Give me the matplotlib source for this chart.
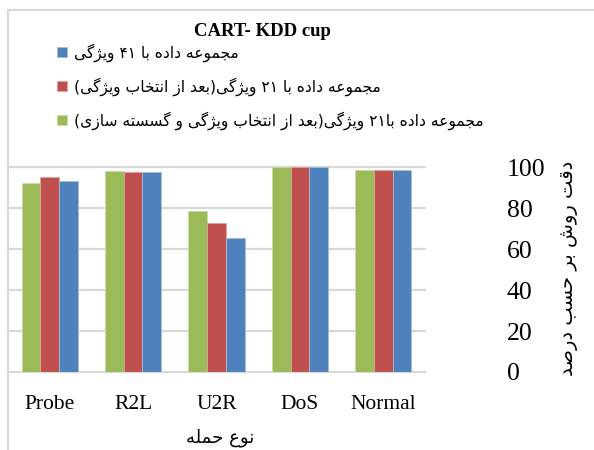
import re
import numpy as np
import matplotlib
matplotlib.use("Agg")
import matplotlib.pyplot as plt
from matplotlib.patches import Rectangle

# ---------------- data ----------------
categories = ["Probe", "R2L", "U2R", "DoS", "Normal"]
acc_41 = [93.3, 97.5, 65.6, 100.0, 98.7]          # blue
acc_21 = [95.3, 97.5, 72.8, 100.0, 98.7]          # red
acc_21_disc = [92.3, 98.2, 78.5, 100.0, 98.7]     # green
yticks = [0, 20, 40, 60, 80, 100]

title = "CART- KDD cup"
lab_41 = "مجموعه داده با ۴۱ ویژگی"
lab_21 = "مجموعه داده با ۲۱ ویژگی(بعد از انتخاب ویژگی)"
lab_21d = "مجموعه داده با۲۱ ویژگی(بعد از انتخاب ویژگی و گسسته سازی)"
xlabel = "نوع حمله"
ylabel = "دقت روش بر حسب درصد"

# ---------------- simple Persian shaping ----------------
FORMS = {
    'ا': (0xFE8D, 0xFE8E, None, None), 'ب': (0xFE8F, 0xFE90, 0xFE91, 0xFE92),
    'ت': (0xFE95, 0xFE96, 0xFE97, 0xFE98), 'ث': (0xFE99, 0xFE9A, 0xFE9B, 0xFE9C),
    'ج': (0xFE9D, 0xFE9E, 0xFE9F, 0xFEA0), 'ح': (0xFEA1, 0xFEA2, 0xFEA3, 0xFEA4),
    'خ': (0xFEA5, 0xFEA6, 0xFEA7, 0xFEA8), 'د': (0xFEA9, 0xFEAA, None, None),
    'ذ': (0xFEAB, 0xFEAC, None, None), 'ر': (0xFEAD, 0xFEAE, None, None),
    'ز': (0xFEAF, 0xFEB0, None, None), 'س': (0xFEB1, 0xFEB2, 0xFEB3, 0xFEB4),
    'ش': (0xFEB5, 0xFEB6, 0xFEB7, 0xFEB8), 'ص': (0xFEB9, 0xFEBA, 0xFEBB, 0xFEBC),
    'ض': (0xFEBD, 0xFEBE, 0xFEBF, 0xFEC0), 'ط': (0xFEC1, 0xFEC2, 0xFEC3, 0xFEC4),
    'ظ': (0xFEC5, 0xFEC6, 0xFEC7, 0xFEC8), 'ع': (0xFEC9, 0xFECA, 0xFECB, 0xFECC),
    'غ': (0xFECD, 0xFECE, 0xFECF, 0xFED0), 'ف': (0xFED1, 0xFED2, 0xFED3, 0xFED4),
    'ق': (0xFED5, 0xFED6, 0xFED7, 0xFED8), 'ل': (0xFEDD, 0xFEDE, 0xFEDF, 0xFEE0),
    'م': (0xFEE1, 0xFEE2, 0xFEE3, 0xFEE4), 'ن': (0xFEE5, 0xFEE6, 0xFEE7, 0xFEE8),
    'ه': (0xFEE9, 0xFEEA, 0xFEEB, 0xFEEC), 'و': (0xFEED, 0xFEEE, None, None),
    'ی': (0xFBFC, 0xFBFD, 0xFBFE, 0xFBFF), 'گ': (0xFB92, 0xFB93, 0xFB94, 0xFB95),
    'ژ': (0xFB8A, 0xFB8B, None, None), 'پ': (0xFB56, 0xFB57, 0xFB58, 0xFB59),
    'چ': (0xFB7A, 0xFB7B, 0xFB7C, 0xFB7D), 'ک': (0xFB8E, 0xFB8F, 0xFB90, 0xFB91),
}


def fa(text):
    chars = list(text)
    out = []
    dual = lambda c: c in FORMS and FORMS[c][2] is not None
    for i, c in enumerate(chars):
        if c not in FORMS:
            out.append(c)
            continue
        prev = chars[i - 1] if i > 0 else None
        nxt = chars[i + 1] if i + 1 < len(chars) else None
        jp = prev is not None and dual(prev)
        jn = dual(c) and nxt is not None and nxt in FORMS
        iso, fin, ini, med = FORMS[c]
        g = med if (jp and jn) else fin if jp else ini if jn else iso
        out.append(chr(g))
    s = ''.join(out)[::-1]
    s = re.sub(r'[0-9\u06F0-\u06F9]+', lambda m: m.group(0)[::-1], s)
    return s.translate(str.maketrans('()', ')('))


# ---------------- figure ----------------
W, H = 594, 450
fig = plt.figure(figsize=(W / 100, H / 100), dpi=100)
fig.patch.set_facecolor("white")

# outer chart border
fig.patches.append(Rectangle((8 / W, -0.05), 1.2, 1 - 10 / H + 0.05,
                             transform=fig.transFigure, fill=False,
                             edgecolor="#D9D9D9", linewidth=1.5))

# axes: x from 8 to 425 px, y=0 at 372 px, y=100 at 167.3 px
px_per = (372 - 167.3) / 100.0
ytop = 101
ax_left, ax_right = 8 / W, 425 / W
ax_bottom = 1 - 372 / H
ax_h = (ytop * px_per) / H
ax = fig.add_axes([ax_left, ax_bottom, ax_right - ax_left, ax_h])
ax.set_ylim(0, ytop)
ax.set_xlim(-0.5, len(categories) - 0.5)

green, red, blue = "#9BBB59", "#C0504D", "#4F81BD"
x = np.arange(len(categories))
bw = 0.225
b_g = ax.bar(x - bw, acc_21_disc, bw, color=green, edgecolor="#C9DBA6", linewidth=0.6, zorder=3)
b_r = ax.bar(x, acc_21, bw, color=red, edgecolor="#DFA3A1", linewidth=0.6, zorder=3)
b_b = ax.bar(x + bw, acc_41, bw, color=blue, edgecolor="#A3BEDE", linewidth=0.6, zorder=3)

for s in ax.spines.values():
    s.set_visible(False)
ax.set_yticks(yticks)
ax.yaxis.grid(True, color="#D9D9D9", linewidth=1.6, zorder=0)
for gl in ax.get_ygridlines():
    gl.set_clip_on(False)
ax.set_axisbelow(True)
ax.yaxis.tick_right()
ax.tick_params(axis="y", length=0, pad=59, labelsize=18.5, labelcolor="black")
ax.tick_params(axis="x", length=0, pad=16.5, labelsize=15.5)
for lab in ax.get_yticklabels():
    lab.set_fontfamily("Liberation Serif")
    lab.set_horizontalalignment("left")
ax.set_xticks(x)
ax.set_xticklabels(categories, fontfamily="Liberation Serif")

# title
fig.text(262 / W, 1 - 31 / H, title, ha="center", va="center",
         fontfamily="Liberation Serif", fontweight="bold", fontsize=13.5)

# legend
leg = fig.legend([b_b, b_r, b_g], [fa(lab_41), fa(lab_21), fa(lab_21d)],
                 loc="upper left", bbox_to_anchor=(57 / W, 1 - 43 / H),
                 frameon=False, prop={"family": "DejaVu Sans", "size": 11.2},
                 handlelength=0.65, handleheight=0.65, handletextpad=0.45,
                 labelspacing=1.0, borderpad=0, borderaxespad=0)

# axis titles
fig.text(220 / W, 1 - 438 / H, fa(xlabel), ha="center", va="center",
         fontfamily="DejaVu Sans", fontsize=13)
fig.text(568 / W, 1 - 268 / H, fa(ylabel), ha="center", va="center",
         rotation=90, fontfamily="DejaVu Sans", fontsize=14)

fig.savefig("out.png", dpi=100)
